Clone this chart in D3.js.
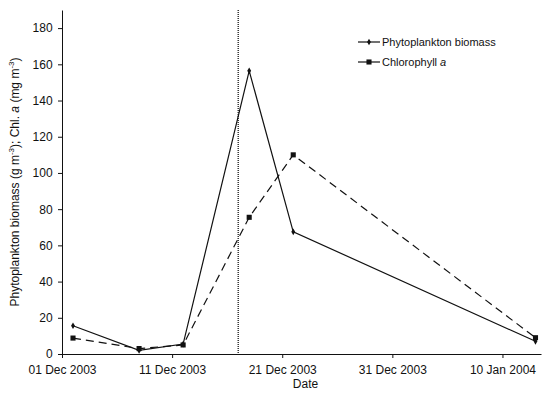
<!DOCTYPE html>
<html>
<head>
<meta charset="utf-8">
<script src="https://cdn.jsdelivr.net/npm/d3@7"></script>
<style>
  body { margin: 0; background: #fff; }
  text { font-family: "Liberation Sans", Arial, sans-serif; fill: #111; }
  .axis path, .axis line { stroke: #111; }
</style>
</head>
<body>
<svg width="544" height="393"></svg>
<script>
const dates = ['2003-12-02', '2003-12-08', '2003-12-12', '2003-12-18', '2003-12-22', '2004-01-13'];
const biomass = [15.6, 2.0, 5.5, 156.4, 67.5, 7.0];
const chla = [8.8, 3.0, 5.0, 75.5, 110, 9.0];
const xTicks = ['2003-12-01', '2003-12-11', '2003-12-21', '2003-12-31', '2004-01-10'];
const yTicks = [0, 20, 40, 60, 80, 100, 120, 140, 160, 180];
const markerDate = '2003-12-17';

const parse = d3.utcParse('%Y-%m-%d');
const fmt = d3.utcFormat('%d %b %Y');

const margin = {top: 10, right: 3, bottom: 39, left: 62};
const width = 544 - margin.left - margin.right;
const height = 393 - margin.top - margin.bottom;

const svg = d3.select('svg')
  .append('g')
  .attr('transform', 'translate(' + margin.left + ',' + margin.top + ')');

const x = d3.scaleUtc()
  .domain([parse('2003-12-01'), new Date(Date.UTC(2004, 0, 13, 12))])
  .range([0, width]);
const y = d3.scaleLinear().domain([0, 190]).range([height, 0]);

// x axis
svg.append('g')
  .attr('class', 'axis')
  .attr('transform', 'translate(0,' + height + ')')
  .call(d3.axisBottom(x).tickValues(xTicks.map(parse)).tickFormat(fmt).tickSize(4).tickSizeOuter(0))
  .call(g => g.selectAll('text').attr('font-size', 12).attr('dy', '1.05em'));

// y axis
svg.append('g')
  .attr('class', 'axis')
  .call(d3.axisLeft(y).tickValues(yTicks).tickSize(4).tickSizeOuter(0))
  .call(g => g.selectAll('text').attr('font-size', 12).attr('dx', '-0.2em'));

svg.append('text')
  .attr('x', width / 2 + 4)
  .attr('y', height + 34)
  .attr('text-anchor', 'middle')
  .attr('font-size', 12)
  .text('Date');

const ylab = svg.append('text')
  .attr('transform', 'translate(-43,' + (height / 2) + ') rotate(-90)')
  .attr('text-anchor', 'middle')
  .attr('font-size', 12);
ylab.append('tspan').text('Phytoplankton biomass (g m');
ylab.append('tspan').attr('font-size', 8).attr('dy', -5).text('-3');
ylab.append('tspan').attr('dy', 5).text('); Chl. ');
ylab.append('tspan').attr('font-style', 'italic').text('a');
ylab.append('tspan').text(' (mg m');
ylab.append('tspan').attr('font-size', 8).attr('dy', -5).text('-3');
ylab.append('tspan').attr('dy', 5).text(')');

// dotted vertical line
svg.append('line')
  .attr('x1', x(parse(markerDate))).attr('x2', x(parse(markerDate)))
  .attr('y1', 0).attr('y2', height)
  .attr('stroke', '#000').attr('stroke-width', 1.2).attr('stroke-dasharray', '1,1');

const bioData = dates.map((d, i) => ({date: parse(d), v: biomass[i]}));
const chlData = dates.map((d, i) => ({date: parse(d), v: chla[i]}));

const line = d3.line().x(d => x(d.date)).y(d => y(d.v));

svg.append('path').datum(chlData)
  .attr('d', line).attr('fill', 'none').attr('stroke', '#111')
  .attr('stroke-width', 1.2).attr('stroke-dasharray', '8,5');

svg.append('path').datum(bioData)
  .attr('d', line).attr('fill', 'none').attr('stroke', '#111')
  .attr('stroke-width', 1.2);

const diamond = d3.symbol().type(d3.symbolDiamond).size(13);
const square = d3.symbol().type(d3.symbolSquare).size(26);

svg.selectAll('.chl').data(chlData).enter().append('path')
  .attr('transform', d => 'translate(' + x(d.date) + ',' + y(d.v) + ')')
  .attr('d', square).attr('fill', '#111');

svg.selectAll('.bio').data(bioData).enter().append('path')
  .attr('transform', d => 'translate(' + x(d.date) + ',' + y(d.v) + ')')
  .attr('d', diamond).attr('fill', '#111');

// legend
const leg = svg.append('g').attr('transform', 'translate(' + (358 - margin.left) + ',' + (42 - margin.top) + ')');
leg.append('line').attr('x1', 0).attr('x2', 22).attr('stroke', '#111').attr('stroke-width', 1.2);
leg.append('path').attr('transform', 'translate(11,0)').attr('d', diamond).attr('fill', '#111');
leg.append('text').attr('x', 24).attr('y', 4).attr('font-size', 11).text('Phytoplankton biomass');

const leg2 = leg.append('g').attr('transform', 'translate(0,20)');
leg2.append('line').attr('x1', 0).attr('x2', 22).attr('stroke', '#111').attr('stroke-width', 1.2);
leg2.append('path').attr('transform', 'translate(11,0)').attr('d', square).attr('fill', '#111');
const t2 = leg2.append('text').attr('x', 24).attr('y', 4).attr('font-size', 11);
t2.append('tspan').text('Chlorophyll ');
t2.append('tspan').attr('font-style', 'italic').text('a');
</script>
</body>
</html>
